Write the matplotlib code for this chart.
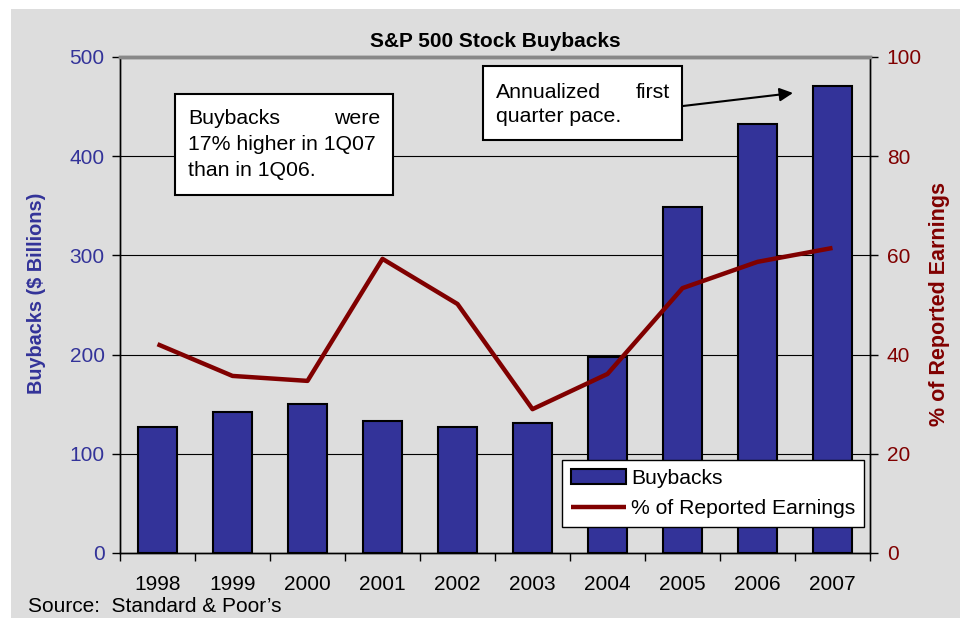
import numpy as np
import matplotlib.pyplot as plt
from matplotlib.patches import Rectangle

plt.rcParams['font.family'] = ['Liberation Sans', 'DejaVu Sans']

# data
years = ['1998', '1999', '2000', '2001', '2002', '2003', '2004', '2005', '2006', '2007']
buybacks = [127, 142, 150, 133, 127, 131, 198, 349, 432, 471]      # $ billions
pct_earnings = [42.1, 35.7, 34.7, 59.3, 50.2, 29.0, 36.1, 53.4, 58.7, 61.5]  # % of reported earnings

blue = '#333399'
red = '#800000'
gray = '#dddddd'

W, H = 975, 618
fig = plt.figure(figsize=(W / 100, H / 100), dpi=100, facecolor='white')

def fx(px):
    return px / W

def fy(py):
    return 1 - py / H

# gray panel behind everything
fig.patches.append(Rectangle((fx(11), 0), fx(960) - fx(11), fy(9), transform=fig.transFigure,
                             facecolor=gray, edgecolor='none', zorder=-10))

ax = fig.add_axes([fx(120), fy(553), fx(870) - fx(120), fy(57) - fy(553)])
ax.set_facecolor(gray)
ax2 = ax.twinx()

x = np.arange(len(years))
bars = ax.bar(x, buybacks, width=0.52, color=blue, edgecolor='black', linewidth=1.5,
              label='Buybacks', zorder=3)
line, = ax2.plot(x, pct_earnings, color=red, linewidth=3.2, label='% of Reported Earnings',
                 solid_capstyle='butt', zorder=4)

ax.set_xlim(-0.5, len(years) - 0.5)
ax.set_ylim(0, 500)
ax2.set_ylim(0, 100)

# gridlines
for v in [100, 200, 300, 400]:
    ax.axhline(v, color='black', linewidth=0.8, zorder=1)

# ticks
ax.set_xticks(x)
ax.set_xticklabels(years, fontsize=15)
ax.set_xticks(np.arange(-0.5, len(years)), minor=True)
ax.tick_params(axis='x', which='major', length=0, pad=16)
ax.tick_params(axis='x', which='minor', length=6, width=1, direction='out')
ax.set_yticks(np.arange(0, 501, 100))
ax.tick_params(axis='y', length=6, width=1, labelsize=15, labelcolor=blue, pad=5)
ax2.set_yticks(np.arange(0, 101, 20))
ax2.tick_params(axis='y', length=6, width=1, labelsize=15, labelcolor=red, pad=6)

for a in (ax, ax2):
    a.spines['top'].set_color('#888888')
    a.spines['top'].set_linewidth(2.5)
    for s in ('left', 'right', 'bottom'):
        a.spines[s].set_color('black')
        a.spines[s].set_linewidth(1)

# axis titles
fig.text(fx(37), fy(293), 'Buybacks ($ Billions)', fontsize=14.3, fontweight='bold', color=blue,
         rotation=90, ha='center', va='center')
fig.text(fx(940), fy(304), '% of Reported Earnings', fontsize=15.5, fontweight='bold', color=red,
         rotation=90, ha='center', va='center')
ax.set_title('S&P 500 Stock Buybacks', fontsize=15, fontweight='bold', pad=7)

# legend
fig.legend([bars, line], ['Buybacks', '% of Reported Earnings'],
           loc='upper left', bbox_to_anchor=(fx(562), fy(460)), bbox_transform=fig.transFigure,
           borderaxespad=0, fancybox=False, edgecolor='black', framealpha=1,
           fontsize=15.2, handlelength=2.6, handletextpad=0.25, labelspacing=0.55,
           borderpad=0.42)

# text boxes
def box(x0, y0, x1, y1):
    fig.patches.append(Rectangle((fx(x0), fy(y1)), fx(x1) - fx(x0), fy(y0) - fy(y1),
                                 transform=fig.transFigure, facecolor='white',
                                 edgecolor='black', linewidth=1.5, zorder=5))

box(175, 94, 393, 195)
fs = 15.3
fig.text(fx(188), fy(119), 'Buybacks', fontsize=fs, va='center', ha='left', zorder=6)
fig.text(fx(380), fy(119), 'were', fontsize=fs, va='center', ha='right', zorder=6)
fig.text(fx(188), fy(145), '17% higher in 1Q07', fontsize=fs, va='center', ha='left', zorder=6)
fig.text(fx(188), fy(171), 'than in 1Q06.', fontsize=fs, va='center', ha='left', zorder=6)

box(483, 66, 682, 140)
fig.text(fx(496), fy(92), 'Annualized', fontsize=fs, va='center', ha='left', zorder=6)
fig.text(fx(670), fy(92), 'first', fontsize=fs, va='center', ha='right', zorder=6)
fig.text(fx(496), fy(117), 'quarter pace.', fontsize=fs, va='center', ha='left', zorder=6)

fig.add_artist(plt.Annotation('', xy=(fx(793), fy(93)), xytext=(fx(683), fy(106)),
                              xycoords='figure fraction', textcoords='figure fraction',
                              arrowprops=dict(arrowstyle='-|>', color='black', lw=1.5,
                                              mutation_scale=20, shrinkA=0, shrinkB=0)))

fig.text(fx(28), fy(616), 'Source:  Standard & Poor\u2019s', fontsize=15, va='bottom', ha='left')

fig.savefig('out.png', dpi=100)
